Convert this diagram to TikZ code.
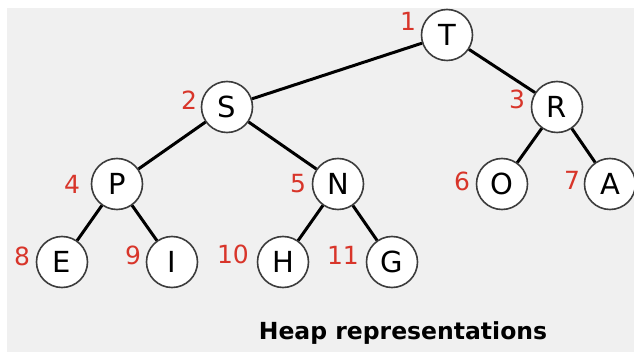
\documentclass[tikz,border=0pt]{standalone}
\usepackage{fontspec}
\setmainfont{DejaVu Sans}

\definecolor{panelgray}{HTML}{F0F0F0}
\definecolor{indexred}{HTML}{D8352A}
\definecolor{rimgray}{HTML}{3C3C3C}

\begin{document}
\begin{tikzpicture}[
		x=1pt, y=-1pt,
		every node/.style={inner sep=0pt},
		key/.style={circle, draw=rimgray, line width=1.6pt, fill=white,
			minimum size=51pt, font=\fontsize{29}{29}\selectfont},
		slot/.style={text=indexred, font=\fontsize{25}{25}\selectfont},
		link/.style={line width=3pt, black}
	]
	% Panel
	\useasboundingbox (0,0) rectangle (634,352);
	\fill[white] (0,0) rectangle (634,352);
	\fill[panelgray] (7,8) rectangle (634,352);
	
	% Keys in heap order
	\foreach \k/\x/\y in {T/447/35, S/227/107, R/557/107, P/117/184, N/338/184,
		O/502/184, A/610/184, E/62/262, I/172/262, H/283/262, G/392/262}
	\node[key] (\k) at (\x,\y) {\k};
	
	% Parent-child links
	\foreach \a/\b in {T/S, T/R, S/P, S/N, R/O, R/A, P/E, P/I, N/H, N/G}
	\draw[link] (\a) -- (\b);
	
	% Array positions
	\foreach \i/\x/\y in {1/408/21, 2/189/100, 3/517/99, 4/72/184, 5/298/184,
		6/462/181, 7/572/180, 8/22/256, 9/133/255, 10/233/254, 11/343/255}
	\node[slot] (slot\i) at (\x,\y) {\i};
	
	% Caption
	\node[font=\bfseries\fontsize{23.5}{23.5}\selectfont, anchor=base]
		(caption) at (403,339) {Heap representations};
\end{tikzpicture}
\end{document}
